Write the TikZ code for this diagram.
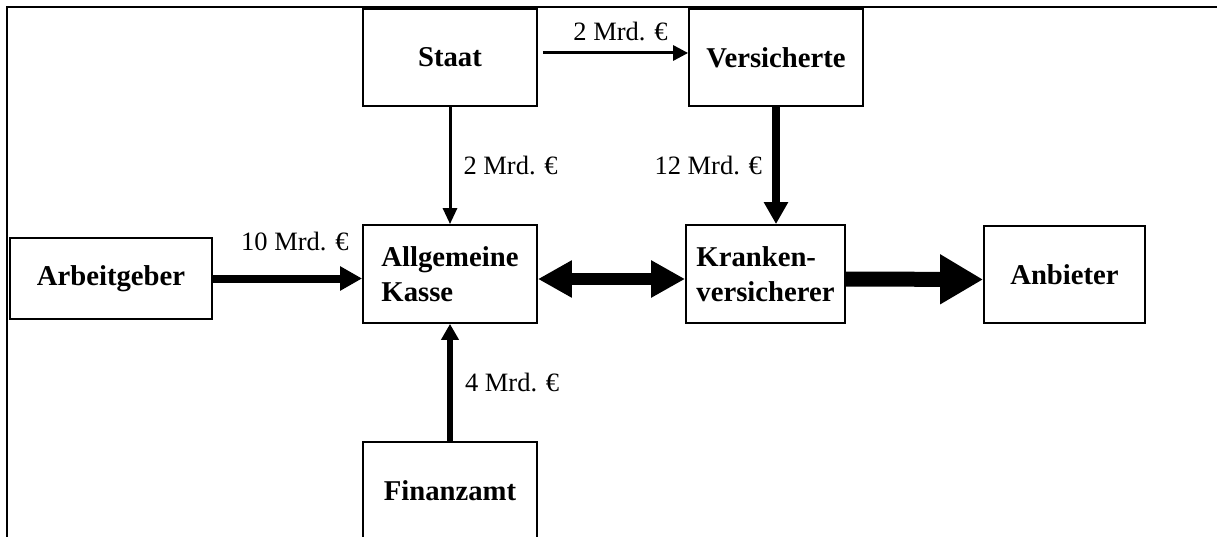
\documentclass[tikz,border=0pt]{standalone}
\usepackage{fontspec}
\setmainfont{Liberation Serif}
\usetikzlibrary{arrows.meta, positioning}

\begin{document}
\begin{tikzpicture}[x=1pt, y=-1pt,
  box/.style={draw, line width=1.8pt, minimum width=174pt, minimum height=97pt, inner sep=0pt, align=left, font=\fontsize{28.7}{34.4}\selectfont\bfseries},
  lbl/.style={inner sep=0pt, font=\fontsize{26.5}{31}\selectfont},
  flow/.style={line width=#1}]
  \useasboundingbox (0,0) rectangle (1217,537);

  % Frame
  \draw[line width=1.8pt] (7,545) -- (7,7) -- (1225,7);

  % Boxes
  \node[box] (staat) at (450,57.5) {Staat};
  \node[box] (vers) at (776,57.5) {Versicherte};
  \node[box, minimum height=98pt] (kasse) at (450,274) {Allgemeine\\Kasse};
  \node[box, minimum width=159pt, minimum height=98pt] (kranken) at (765.5,274) {Kranken-\\versicherer};
  \node[box, minimum width=161pt] (anbieter) at (1064.5,274.5) {Anbieter};
  \node[box, minimum width=202pt, minimum height=81pt] (arbeit) at (111,278.5) {Arbeitgeber};
  \node[box] (finanz) at (450,490.5) {Finanzamt};

  % Flows into the Kasse
  \draw[flow=3pt, -{Triangle[width=15pt, length=15pt]}, shorten <=5pt] ([yshift=4.5pt]staat.east) -- ([yshift=4.5pt]vers.west)
    node[lbl, pos=0.55, above=11pt] {2 Mrd. €};
  \draw[flow=3pt, -{Triangle[width=14pt, length=16pt]}] (staat) -- (kasse)
    node[lbl, midway, right=12pt] {2 Mrd. €};
  \draw[flow=8pt, -{Triangle[width=23pt, length=22pt]}] (vers.south) -- (vers.south |- kranken.north)
    node[lbl, midway, left=10pt] {12 Mrd. €};
  \draw[flow=8pt, -{Triangle[width=23pt, length=22pt]}] (arbeit.east) -- (arbeit.east -| kasse.west)
    node[lbl, pos=0.55, above=23.5pt] {10 Mrd. €};
  \draw[flow=6pt, -{Triangle[width=17pt, length=16pt]}] (finanz) -- (kasse)
    node[lbl, midway, right=12pt] {4 Mrd. €};

  % Kasse, Versicherer, Anbieter
  \draw[flow=12pt, {Triangle[width=35pt, length=34pt]}-{Triangle[width=35pt, length=34pt]}] ([yshift=-5pt]kasse.east) -- ([yshift=-5pt]kranken.west);
  \draw[flow=15pt, -{Triangle[width=47pt, length=43pt]}] ([yshift=-5pt]kranken.east) -- ([yshift=-5pt]anbieter.west);
\end{tikzpicture}
\end{document}
